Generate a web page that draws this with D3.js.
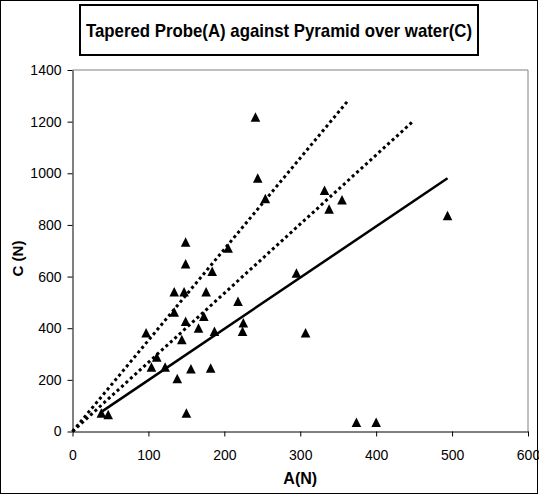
<!DOCTYPE html>
<html lang="en">
<head>
    <meta charset="UTF-8">
    <script src="https://d3js.org/d3.v7.min.js"></script>
    <title>Tapered Probe(A) against Pyramid over water(C)</title>
    <style>
        body { margin: 0; background: #fff; }
        text { font-family: "Liberation Sans", Arial, sans-serif; }
    </style>
</head>
<body>
    <div id="chart"></div>
    <script>
        // measured pairs, A(N) vs C(N)
        var aValues = [38, 47, 97, 104, 111, 122, 134, 134, 138, 144, 147, 149, 149, 149, 150, 156, 166, 173,
                       176, 182, 184, 187, 205, 218, 224, 225, 241, 244, 254, 295, 307, 332, 338, 355, 374, 400, 494];
        var cValues = [71, 65, 381, 249, 288, 249, 540, 462, 204, 355, 540, 733, 649, 426, 71, 242, 400, 445,
                       540, 245, 620, 387, 710, 503, 387, 420, 1217, 981, 901, 613, 381, 933, 861, 897, 35, 35, 836];

        // reference lines as [A, C] end points
        var solidLine = [[38, 76], [494, 981]];
        var dotLineUpper = [[0, 0], [362, 1278]];
        var dotLineLower = [[0, 0], [450, 1205]];

        var xTicks = [0, 100, 200, 300, 400, 500, 600];
        var yTicks = [0, 200, 400, 600, 800, 1000, 1200, 1400];
        var title = "Tapered Probe(A) against Pyramid over water(C)";

        var width = 539;
        var height = 495;
        var plot = {left: 72.5, right: 528, top: 70, bottom: 431.5};

        var svg = d3.select('#chart')
                    .append('svg')
                    .attr('width', width)
                    .attr('height', height);

        // outer border
        svg.append('rect')
           .attr('x', 0.5).attr('y', 0.5)
           .attr('width', 537).attr('height', 493)
           .attr('fill', 'white')
           .attr('stroke', 'black');

        var x = d3.scaleLinear().domain([0, 600]).range([plot.left, plot.right]);
        var y = d3.scaleLinear().domain([0, 1400]).range([plot.bottom, plot.top]);

        // plot area frame (grey top and right)
        svg.append('path')
           .attr('d', `M${plot.left},${plot.top}H${plot.right}V${plot.bottom}`)
           .attr('fill', 'none')
           .attr('stroke', '#808080');

        var xAxis = svg.append('g')
            .attr('transform', `translate(0,${plot.bottom})`)
            .call(d3.axisBottom(x).tickValues(xTicks).tickFormat(d3.format('d'))
                    .tickSize(5).tickSizeOuter(0).tickPadding(14));

        var yAxis = svg.append('g')
            .attr('transform', `translate(${plot.left},0)`)
            .call(d3.axisLeft(y).tickValues(yTicks).tickFormat(d3.format('d'))
                    .tickSize(5).tickSizeOuter(0).tickPadding(6));

        [xAxis, yAxis].forEach(ax => {
            ax.selectAll('text')
              .attr('font-family', '"Liberation Sans", Arial, sans-serif')
              .attr('font-size', 14)
              .attr('fill', 'black');
            ax.selectAll('line, path').attr('stroke', 'black');
        });

        var line = d3.line().x(d => x(d[0])).y(d => y(d[1]));

        svg.append('path')
           .attr('d', line(solidLine))
           .attr('fill', 'none')
           .attr('stroke', 'black')
           .attr('stroke-width', 2.5);

        [dotLineUpper, dotLineLower].forEach(pts => {
            svg.append('path')
               .attr('d', line(pts))
               .attr('fill', 'none')
               .attr('stroke', 'black')
               .attr('stroke-width', 3)
               .attr('stroke-dasharray', '3,3');
        });

        // triangle markers
        var tri = 'M0,-5L4.8,4.5L-4.8,4.5Z';
        svg.append('g')
           .selectAll('path')
           .data(aValues.map((a, i) => [a, cValues[i]]))
           .enter()
           .append('path')
           .attr('d', tri)
           .attr('transform', d => `translate(${x(d[0])},${y(d[1])})`)
           .attr('fill', 'black');

        // title box
        svg.append('rect')
           .attr('x', 80).attr('y', 5)
           .attr('width', 398).attr('height', 50)
           .attr('fill', 'white')
           .attr('stroke', 'black')
           .attr('stroke-width', 2);

        svg.append('text')
           .attr('x', 279).attr('y', 37)
           .attr('text-anchor', 'middle')
           .attr('font-size', 19)
           .attr('font-weight', 'bold')
           .attr('textLength', 386)
           .attr('lengthAdjust', 'spacingAndGlyphs')
           .text(title);

        svg.append('text')
           .attr('x', x(300)).attr('y', 484)
           .attr('text-anchor', 'middle')
           .attr('font-size', 16)
           .attr('font-weight', 'bold')
           .text('A(N)');

        svg.append('text')
           .attr('transform', `translate(23,${y(670)}) rotate(-90)`)
           .attr('text-anchor', 'middle')
           .attr('font-size', 15)
           .attr('font-weight', 'bold')
           .text('C (N)');
    </script>
</body>
</html>
